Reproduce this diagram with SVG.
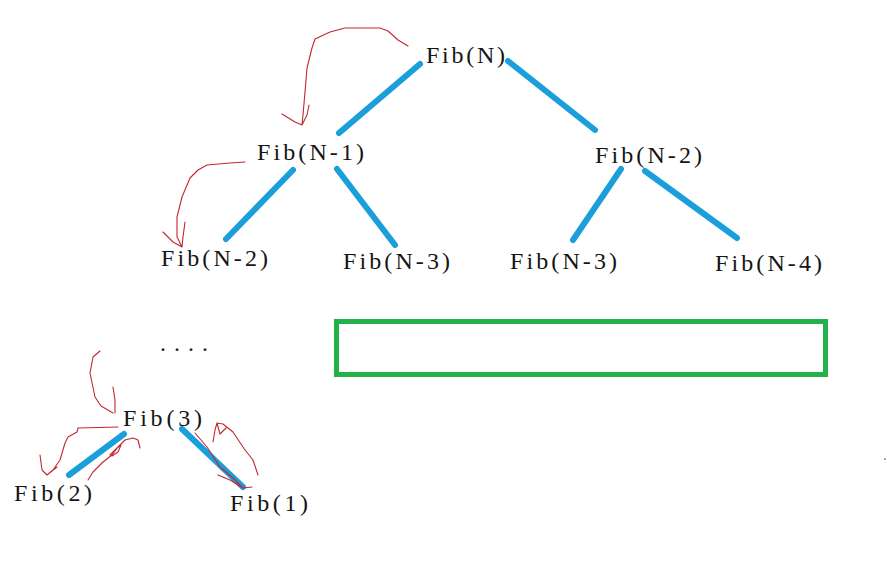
<svg xmlns="http://www.w3.org/2000/svg" width="887" height="561" viewBox="0 0 887 561">
<style>
.t{font-family:"Liberation Serif","Noto Serif",serif;font-size:24px;fill:#151515}
.e{stroke:#1a9fdb;stroke-width:6;stroke-linecap:round;fill:none}
.r{stroke:#c4262e;stroke-width:1.1;fill:none;stroke-linecap:round;stroke-linejoin:round}
</style>
<rect width="887" height="561" fill="#fff"/>
<g id="connectors">
<line class="e" x1="420" y1="64" x2="339" y2="133"/>
<line class="e" x1="508" y1="61" x2="595" y2="130"/>
<line class="e" x1="293" y1="170" x2="226" y2="239"/>
<line class="e" x1="337" y1="169" x2="395" y2="245"/>
<line class="e" x1="621" y1="169" x2="573" y2="240"/>
<line class="e" x1="645" y1="171" x2="737" y2="238"/>
<line class="e" x1="124" y1="434" x2="69" y2="475"/>
<line class="e" x1="182" y1="429" x2="243" y2="487"/>
</g>
<g id="annotations">
<path class="r" d="M408,46 L398,40 L388,31 L380,28 L345,28 L330,32 L315,39 L312,48 L307,68 L305,92 L303,115 L302,125 M282,114 L295,122 L302,125 M309,105 L307,115 L302,125"/>
<path class="r" d="M245,162 L230,163 L207,165 L198,170 L190,178 L182,197 L177,217 L177,237 L182,247 M163,232 L173,242 L182,247 M185,222 L183,237 L182,247"/>
<path class="r" d="M100,351 L93,357 L90,373 L95,397 L101,406 L113,413 M113,387 L115,400 L115,413"/>
<path class="r" d="M118,427 L78,428 L77,432 L68,437 L65,443 L60,460 L53,470 L47,475 M40,455 L42,470 L47,475 M57,467 L47,475"/>
<path class="r" d="M88,480 L93,472 L103,462 L112,455 L118,447 L125,440 L133,438 L138,440 L140,448 M110,455 L117,448 L121,445 L118,452 L112,456"/>
<path class="r" d="M195,433 L207,447 L220,467 L233,478 L243,488 M218,475 L230,480 L243,488 L252,487"/>
<path class="r" d="M258,475 L253,460 L245,450 L233,432 L223,424 L217,423 L215,430 L213,442 M217,423 L220,434 L226,428"/>
<line x1="884" y1="459" x2="886" y2="459" stroke="#8a2a40" stroke-width="1"/>
</g>
<g id="fibN"><text class="t" x="426" y="63" textLength="79" lengthAdjust="spacing">Fib(N)</text></g>
<g id="fibN1"><text class="t" x="257" y="160" textLength="107" lengthAdjust="spacing">Fib(N-1)</text></g>
<g id="fibN2a"><text class="t" x="595" y="163" textLength="107" lengthAdjust="spacing">Fib(N-2)</text></g>
<g id="fibN2b"><text class="t" x="161" y="266" textLength="107" lengthAdjust="spacing">Fib(N-2)</text></g>
<g id="fibN3a"><text class="t" x="343" y="269" textLength="107" lengthAdjust="spacing">Fib(N-3)</text></g>
<g id="fibN3b"><text class="t" x="510" y="269" textLength="107" lengthAdjust="spacing">Fib(N-3)</text></g>
<g id="fibN4"><text class="t" x="715" y="271" textLength="107" lengthAdjust="spacing">Fib(N-4)</text></g>
<g id="dots"><text class="t" x="160" y="351" textLength="48" lengthAdjust="spacing">....</text></g>
<g id="fib3"><text class="t" x="123" y="426" textLength="79" lengthAdjust="spacing">Fib(3)</text></g>
<g id="fib2"><text class="t" x="14" y="501" textLength="78" lengthAdjust="spacing">Fib(2)</text></g>
<g id="fib1"><text class="t" x="230" y="511" textLength="78" lengthAdjust="spacing">Fib(1)</text></g>
<g id="box"><rect x="336.5" y="321.5" width="489" height="53" fill="none" stroke="#22b24c" stroke-width="5"/></g>
</svg>
